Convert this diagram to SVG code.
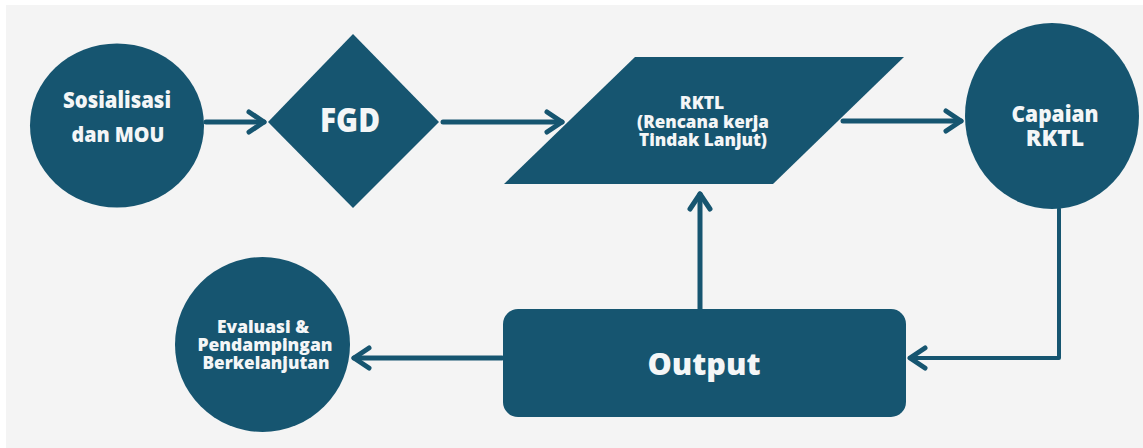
<svg xmlns="http://www.w3.org/2000/svg" width="1143" height="448" viewBox="0 0 1143 448">
  <defs>
    <style>
      .node { fill: #165570; }
      .lbl { fill: #f4f6f7; font-family: "Open Sans", "Noto Sans", "Liberation Sans", sans-serif; font-weight: 800; text-anchor: middle; }
      .conn { fill: none; stroke: #165570; stroke-width: 5; stroke-linecap: round; stroke-linejoin: round; }
    </style>
    <marker id="arrow" markerUnits="userSpaceOnUse" viewBox="0 0 24 26" refX="19" refY="13" markerWidth="24" markerHeight="26" orient="auto" overflow="visible">
      <path d="M4,3 L19,13 L4,23" fill="none" stroke="#165570" stroke-width="5" stroke-linecap="round" stroke-linejoin="round"/>
    </marker>
  </defs>
  <rect x="0" y="0" width="1143" height="448" fill="#ffffff"/>
  <rect x="6" y="5" width="1137" height="443" fill="#f4f4f4"/>

  <g id="connectors">
    <path class="conn" d="M206,122 H264" marker-end="url(#arrow)"/>
    <path class="conn" d="M443,122 H562" marker-end="url(#arrow)"/>
    <path class="conn" d="M843,121 H961" marker-end="url(#arrow)"/>
    <path class="conn" style="stroke-width:4" d="M1059,209 V358 H910" marker-end="url(#arrow)"/>
    <path class="conn" d="M700,309 V194" marker-end="url(#arrow)"/>
    <path class="conn" d="M502,358 H354" marker-end="url(#arrow)"/>
  </g>

  <g id="node-sosialisasi">
    <ellipse class="node" cx="117" cy="125.5" rx="87" ry="82"/>
    <text class="lbl" x="117" y="108" font-size="22" textLength="108" lengthAdjust="spacingAndGlyphs">Sosialisasi</text>
    <text class="lbl" x="118" y="142" font-size="21" textLength="93" lengthAdjust="spacingAndGlyphs">dan MOU</text>
  </g>

  <g id="node-fgd">
    <polygon class="node" points="268,122 353,34 439,122 353,208"/>
    <text class="lbl" x="350" y="132" font-size="33" textLength="60" lengthAdjust="spacingAndGlyphs">FGD</text>
  </g>

  <g id="node-rktl">
    <polygon class="node" points="635,57 904,57 773,184 504,184"/>
    <text class="lbl" x="702" y="109" font-size="17.5">RKTL</text>
    <text class="lbl" x="703" y="128" font-size="17.5" textLength="132" lengthAdjust="spacingAndGlyphs">(Rencana kerja</text>
    <text class="lbl" x="703" y="146" font-size="17.5" textLength="128" lengthAdjust="spacingAndGlyphs">Tindak Lanjut)</text>
  </g>

  <g id="node-capaian">
    <ellipse class="node" cx="1052" cy="116" rx="87" ry="93"/>
    <text class="lbl" x="1055" y="122" font-size="23" textLength="87" lengthAdjust="spacingAndGlyphs">Capaian</text>
    <text class="lbl" x="1055" y="146" font-size="23">RKTL</text>
  </g>

  <g id="node-output">
    <rect class="node" x="503" y="309" width="403" height="108" rx="15"/>
    <text class="lbl" x="704" y="375" font-size="30" textLength="113" lengthAdjust="spacingAndGlyphs">Output</text>
  </g>

  <g id="node-evaluasi">
    <ellipse class="node" cx="262.5" cy="344.5" rx="87.5" ry="87.5"/>
    <text class="lbl" x="263" y="333" font-size="17.5" textLength="92" lengthAdjust="spacingAndGlyphs">Evaluasi &amp;</text>
    <text class="lbl" x="265" y="351" font-size="17.5" textLength="135" lengthAdjust="spacingAndGlyphs">Pendampingan</text>
    <text class="lbl" x="266" y="369" font-size="17.5" textLength="127" lengthAdjust="spacingAndGlyphs">Berkelanjutan</text>
  </g>
</svg>
